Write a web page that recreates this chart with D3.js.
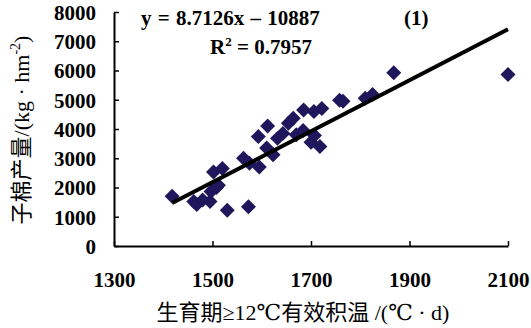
<!DOCTYPE html>
<html>
<head>
<meta charset="utf-8">
<script src="https://cdn.jsdelivr.net/npm/d3@7"></script>
<style>
  body { margin: 0; background: #fff; }
  svg { display: block; }
</style>
</head>
<body>
<svg id="chart" width="531" height="328"></svg>
<script>
// accumulated temperature (x) and seed cotton yield (y)
const tempSum = [1418, 1462, 1468, 1480, 1495, 1497, 1508, 1512, 1502, 1520,
                 1530, 1573, 1563, 1575, 1595, 1593, 1612, 1610, 1623, 1632,
                 1643, 1654, 1664, 1670, 1684, 1685, 1700, 1707, 1718, 1706,
                 1722, 1758, 1765, 1810, 1825, 1868, 2100];
const yieldVal = [1700, 1520, 1420, 1570, 1520, 1860, 2000, 2080, 2530, 2650,
                  1220, 1340, 3000, 2830, 2700, 3740, 4100, 3350, 3120, 3680,
                  3850, 4200, 4370, 3800, 3950, 4650, 3550, 3780, 3400, 4600,
                  4700, 4980, 4950, 5050, 5180, 5920, 5860];
const xTicks = [1300, 1500, 1700, 1900, 2100];
const yTicks = [0, 1000, 2000, 3000, 4000, 5000, 6000, 7000, 8000];
const slope = 8.7126, intercept = -10887;

const serif = "Liberation Serif, DejaVu Serif, Noto Sans CJK SC, serif";
const markColor = "#1f175c";

let margin = ({top: 12, right: 23, bottom: 82, left: 114});
let width = 531, height = 328;

let svg = d3.select("#chart");

let x = d3.scaleLinear().domain([1300, 2100]).range([margin.left, width - margin.right]);
let y = d3.scaleLinear().domain([0, 8000]).range([height - margin.bottom, margin.top]);

// axes, ticks pointing inward
let xAxis = svg.append("g")
  .attr("transform", "translate(0," + (height - margin.bottom) + ")")
  .call(d3.axisBottom(x).tickValues(xTicks).tickFormat(d3.format("d"))
    .tickSize(-5).tickSizeOuter(0).tickPadding(26));
let yAxis = svg.append("g")
  .attr("transform", "translate(" + margin.left + ",0)")
  .call(d3.axisLeft(y).tickValues(yTicks).tickFormat(d3.format("d"))
    .tickSize(-5).tickSizeOuter(0).tickPadding(18));

[xAxis, yAxis].forEach(function(g) {
  g.attr("font-family", null).attr("font-size", null);
  g.select(".domain").attr("stroke", "#000").attr("stroke-width", 2);
  g.selectAll(".tick line").attr("stroke", "#000").attr("stroke-width", 1.5);
  g.selectAll(".tick text")
    .attr("fill", "#000")
    .style("font-family", serif)
    .style("font-weight", "bold")
    .style("font-size", "21px");
});
yAxis.selectAll(".tick text").attr("dy", "0.35em");

// points
let pts = tempSum.map(function(t, i) { return {t: t, v: yieldVal[i]}; });
svg.append("g")
  .selectAll("path")
  .data(pts)
  .enter()
  .append("path")
  .attr("d", d3.symbol().type(d3.symbolSquare).size(112))
  .attr("transform", function(d) { return "translate(" + x(d.t) + "," + y(d.v) + ") rotate(45)"; })
  .attr("fill", markColor);

// regression line over the data range
let xr = d3.extent(tempSum);
svg.append("line")
  .attr("x1", x(xr[0])).attr("y1", y(slope * xr[0] + intercept))
  .attr("x2", x(xr[1])).attr("y2", y(slope * xr[1] + intercept))
  .attr("stroke", "#000")
  .attr("stroke-width", 4);

// equation text
let eqStyle = function(t) {
  return t.style("font-family", serif).style("font-weight", "bold").style("font-size", "21px").attr("fill", "#000");
};
eqStyle(svg.append("text").attr("x", 141).attr("y", 25)
  .style("font-size", "23px")
  .style("word-spacing", "1px")
  .text("y = 8.7126x \u2013 10887"));
eqStyle(svg.append("text").attr("x", 404).attr("y", 25).text("(1)"));
let r2 = eqStyle(svg.append("text").attr("x", 210).attr("y", 54));
r2.append("tspan").text("R");
r2.append("tspan").attr("dy", -8).style("font-size", "13px").text("2");
r2.append("tspan").attr("dy", 8).text(" = 0.7957");

// axis titles
svg.append("text")
  .attr("x", 303).attr("y", 320)
  .attr("text-anchor", "middle")
  .style("font-family", serif)
  .style("font-size", "22px")
  .attr("fill", "#000")
  .text("生育期≥12℃有效积温 /(℃ · d)");

let yt = svg.append("text")
  .attr("transform", "translate(29,130) rotate(-90)")
  .attr("text-anchor", "middle")
  .style("font-family", serif)
  .style("font-size", "22px")
  .attr("fill", "#000");
yt.append("tspan").text("子棉产量/(kg · hm");
yt.append("tspan").attr("dy", -9).style("font-size", "14px").text("-2");
yt.append("tspan").attr("dy", 9).text(")");
</script>
</body>
</html>
